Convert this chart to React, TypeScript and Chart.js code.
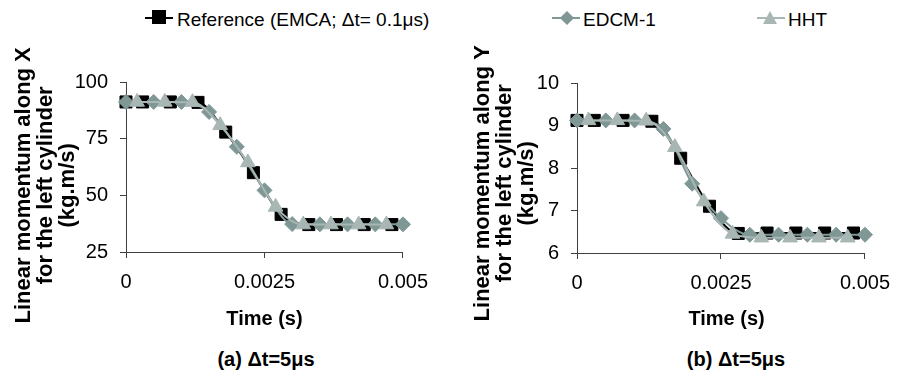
import React, { useEffect, useRef } from 'react';
import { Chart, registerables } from 'chart.js';

Chart.register(...registerables);

const FONT = "'Liberation Sans', Arial, Helvetica, sans-serif";

// ---------- data ----------
const seriesNames = ['Reference (EMCA; \u0394t= 0.1\u03bcs)', 'EDCM-1', 'HHT'];

const refTime = [0, 0.0003, 0.0008, 0.0013, 0.0018, 0.0023, 0.0028, 0.0033, 0.0038, 0.0043, 0.0048];
const edcmTime = [0, 0.0005, 0.001, 0.0015, 0.002, 0.0025, 0.003, 0.0035, 0.004, 0.0045, 0.005];
const hhtTime = [0.0002, 0.0007, 0.0012, 0.0017, 0.0022, 0.0027, 0.0032, 0.0037, 0.0042, 0.0047];

// (a) momentum along X
const refMomentumX = [91.2, 91.2, 91.2, 91.0, 77.9, 60.0, 41.6, 37.1, 37.1, 37.1, 37.1];
const edcmMomentumX = [91.2, 91.2, 91.2, 86.8, 71.4, 52.2, 37.3, 37.2, 37.2, 37.2, 37.2];
const hhtMomentumX = [91.2, 91.2, 91.1, 80.9, 64.5, 44.9, 37.1, 37.1, 37.1, 37.1];

// (b) momentum along Y
const refMomentumY = [9.12, 9.12, 9.12, 9.1, 8.23, 7.1, 6.46, 6.47, 6.47, 6.47, 6.47];
const edcmMomentumY = [9.12, 9.12, 9.12, 8.92, 7.63, 6.82, 6.43, 6.43, 6.43, 6.43, 6.43];
const hhtMomentumY = [9.12, 9.12, 9.11, 8.49, 7.21, 6.45, 6.36, 6.36, 6.36, 6.36];

const timeTicks = [0, 0.0025, 0.005];
const timeTickLabels = ['0', '0.0025', '0.005'];
const momentumXTicks = [25, 50, 75, 100];
const momentumXTickLabels = ['25', '50', '75', '100'];
const momentumYTicks = [6, 7, 8, 9, 10];
const momentumYTickLabels = ['6', '7', '8', '9', '10'];

const xTitle = 'Time (s)';
const yTitleX = ['Linear momentum along X', 'for the left cylinder', '(kg.m/s)'];
const yTitleY = ['Linear momentum along Y', 'for the left cylinder', '(kg.m/s)'];
const captions = ['(a) \u0394t=5\u03bcs', '(b) \u0394t=5\u03bcs'];

// ---------- styles ----------
const COLORS = { ref: '#000000', edcm: '#7F9896', hht: '#A8B6B4' };
const AXIS = '#404040';

function pts(xs: number[], ys: number[]) {
  return xs.map((x, i) => ({ x, y: ys[i] }));
}

type Cfg = {
  ref: number[];
  edcm: number[];
  hht: number[];
  yMin: number;
  yMax: number;
  yTicks: number[];
  yTickLabels: string[];
  yTitle: string[];
  yTitleShift: number;
  yTitlePad: number;
  xTitleLead: number;
  pad: { left: number; top: number; right: number; bottom: number };
  yWidth: number;
  xHeight: number;
};

function buildConfig(o: Cfg): any {
  const tickFont = { family: FONT, size: 20 };
  const common = {
    borderWidth: 2,
    pointBorderWidth: 1,
    cubicInterpolationMode: 'monotone',
    fill: false,
    clip: false,
  };
  return {
    type: 'line',
    data: {
      datasets: [
        {
          ...common,
          label: seriesNames[0],
          data: pts(refTime, o.ref),
          borderColor: COLORS.ref,
          backgroundColor: COLORS.ref,
          pointBackgroundColor: COLORS.ref,
          pointBorderColor: COLORS.ref,
          pointStyle: 'rect',
          pointRadius: 8.5,
          order: 3,
        },
        {
          ...common,
          label: seriesNames[1],
          data: pts(edcmTime, o.edcm),
          borderColor: COLORS.edcm,
          backgroundColor: COLORS.edcm,
          pointBackgroundColor: COLORS.edcm,
          pointBorderColor: COLORS.edcm,
          pointStyle: 'rectRot',
          pointRadius: 7.5,
          order: 2,
        },
        {
          ...common,
          label: seriesNames[2],
          data: pts(hhtTime, o.hht),
          borderColor: COLORS.hht,
          backgroundColor: COLORS.hht,
          pointBackgroundColor: COLORS.hht,
          pointBorderColor: COLORS.hht,
          pointStyle: 'triangle',
          pointRadius: 8.5,
          order: 1,
        },
      ],
    },
    options: {
      animation: false,
      responsive: false,
      maintainAspectRatio: false,
      events: [],
      layout: { padding: o.pad },
      plugins: {
        legend: { display: false },
        tooltip: { enabled: false },
        title: { display: false },
      },
      scales: {
        x: {
          type: 'linear',
          min: 0,
          max: 0.005,
          afterBuildTicks: (s: any) => {
            s.ticks = timeTicks.map((v) => ({ value: v }));
          },
          afterFit: (s: any) => {
            s.height = o.xHeight;
          },
          ticks: {
            font: tickFont,
            color: '#000',
            padding: 12,
            maxRotation: 0,
            autoSkip: false,
            callback: (v: number) => timeTickLabels[timeTicks.indexOf(v)],
          },
          grid: { drawOnChartArea: false, drawTicks: true, tickLength: 6, tickColor: AXIS },
          border: { display: true, color: AXIS, width: 1 },
          title: {
            display: true,
            text: ' '.repeat(o.xTitleLead) + xTitle,
            color: '#000',
            font: { family: FONT, size: 20, weight: 'bold', lineHeight: '24px' },
            padding: { top: 0, bottom: 9 },
          },
        },
        y: {
          type: 'linear',
          min: o.yMin,
          max: o.yMax,
          afterBuildTicks: (s: any) => {
            s.ticks = o.yTicks.map((v) => ({ value: v }));
          },
          afterFit: (s: any) => {
            s.width = o.yWidth;
          },
          ticks: {
            font: tickFont,
            color: '#000',
            padding: 12,
            autoSkip: false,
            callback: (v: number) => o.yTickLabels[o.yTicks.indexOf(v)],
          },
          grid: { drawOnChartArea: false, drawTicks: true, tickLength: 6, tickColor: AXIS },
          border: { display: true, color: AXIS, width: 1 },
          title: {
            display: true,
            text: o.yTitle.map((l) => l + ' '.repeat(o.yTitleShift)),
            color: '#000',
            font: { family: FONT, size: 22, weight: 'bold', lineHeight: '22px' },
            padding: { top: o.yTitlePad, bottom: 0 },
          },
        },
      },
    },
  };
}

function ChartCanvas({ cfg, left, top, width, height }: { cfg: Cfg; left: number; top: number; width: number; height: number }) {
  const ref = useRef<HTMLCanvasElement | null>(null);
  useEffect(() => {
    if (!ref.current) return;
    const chart = new Chart(ref.current, buildConfig(cfg));
    return () => chart.destroy();
  }, []);
  return (
    <canvas
      ref={ref}
      width={width}
      height={height}
      style={{ position: 'absolute', left, top, width, height }}
    />
  );
}

const leftCfg: Cfg = {
  ref: refMomentumX,
  edcm: edcmMomentumX,
  hht: hhtMomentumX,
  yMin: 25,
  yMax: 100,
  yTicks: momentumXTicks,
  yTickLabels: momentumXTickLabels,
  yTitle: yTitleX,
  yTitleShift: 6,
  yTitlePad: 12.5,
  xTitleLead: 0,
  pad: { left: 0, top: 42, right: 32, bottom: 0 },
  yWidth: 126,
  xHeight: 88,
};

const rightCfg: Cfg = {
  ref: refMomentumY,
  edcm: edcmMomentumY,
  hht: hhtMomentumY,
  yMin: 6,
  yMax: 10,
  yTicks: momentumYTicks,
  yTickLabels: momentumYTickLabels,
  yTitle: yTitleY,
  yTitleShift: 5,
  yTitlePad: 32,
  xTitleLead: 2,
  pad: { left: 0, top: 43, right: 30, bottom: 0 },
  yWidth: 137,
  xHeight: 87,
};

function LegendLine({ left, color }: { left: number; color: string }) {
  return <div style={{ position: 'absolute', left, top: 16.5, width: 28, height: 2.5, background: color }} />;
}

function Legend() {
  const text: React.CSSProperties = {
    position: 'absolute',
    top: 9,
    height: 22,
    lineHeight: '22px',
    fontFamily: FONT,
    fontSize: 19,
    color: '#000',
    whiteSpace: 'nowrap',
  };
  return (
    <>
      <LegendLine left={145} color={COLORS.ref} />
      <div style={{ position: 'absolute', left: 152, top: 10, width: 14, height: 14, background: COLORS.ref }} />
      <div style={{ ...text, left: 177 }}>{seriesNames[0]}</div>

      <LegendLine left={552} color={COLORS.edcm} />
      <div
        style={{
          position: 'absolute',
          left: 562,
          top: 13,
          width: 10,
          height: 10,
          background: COLORS.edcm,
          transform: 'rotate(45deg)',
        }}
      />
      <div style={{ ...text, left: 583 }}>{seriesNames[1]}</div>

      <LegendLine left={757} color={COLORS.hht} />
      <div
        style={{
          position: 'absolute',
          left: 763,
          top: 11,
          width: 0,
          height: 0,
          borderLeft: '7.5px solid transparent',
          borderRight: '7.5px solid transparent',
          borderBottom: `13px solid ${COLORS.hht}`,
        }}
      />
      <div style={{ ...text, left: 788 }}>{seriesNames[2]}</div>
    </>
  );
}

function Caption({ center, label }: { center: number; label: string }) {
  return (
    <div
      style={{
        position: 'absolute',
        left: center - 100,
        top: 347,
        width: 200,
        textAlign: 'center',
        fontFamily: FONT,
        fontWeight: 'bold',
        fontSize: 20,
        lineHeight: '24px',
        color: '#000',
        whiteSpace: 'nowrap',
      }}
    >
      {label}
    </div>
  );
}

export default function App() {
  return (
    <div
      style={{
        position: 'absolute',
        left: 0,
        top: 0,
        width: 902,
        height: 378,
        background: '#fff',
        overflow: 'hidden',
      }}
    >
      <ChartCanvas cfg={leftCfg} left={0} top={40} width={440} height={300} />
      <ChartCanvas cfg={rightCfg} left={440} top={40} width={462} height={300} />
      <Legend />
      <Caption center={266} label={captions[0]} />
      <Caption center={736} label={captions[1]} />
    </div>
  );
}
